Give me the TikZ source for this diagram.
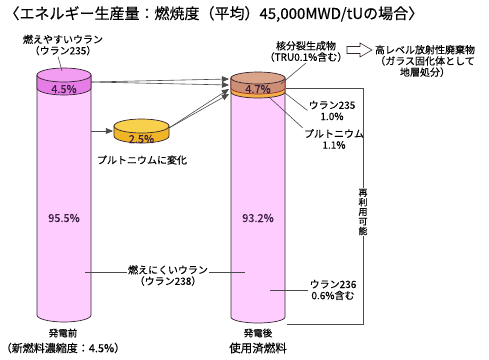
\documentclass[tikz,border=0pt]{standalone}
\usepackage{fontspec}
\setmainfont{Noto Sans CJK JP}[FakeBold=0.3]
\usetikzlibrary{arrows}

\definecolor{pinkbody}{HTML}{FFCCFF}
\definecolor{magtop}{HTML}{F29CF2}
\definecolor{magband}{HTML}{E67CE6}
\definecolor{goldtop}{HTML}{F9D04C}
\definecolor{goldside}{HTML}{F0B526}
\definecolor{browntop}{HTML}{D9A48A}
\definecolor{brownband}{HTML}{CC8F75}
\definecolor{orangeband}{HTML}{F4AE48}
\definecolor{redline}{HTML}{9A2A20}
\definecolor{edge}{HTML}{33232F}
\definecolor{linegray}{HTML}{4A4A4A}
\definecolor{pcttext}{HTML}{3A2040}

\begin{document}
\begin{tikzpicture}[x=1pt,y=1pt,>=triangle 45,
    lbl/.style={align=center,font=\fontsize{10}{11.2}\selectfont,inner sep=1pt},
    pct/.style={font=\fontsize{11}{12}\selectfont,text=pcttext,inner sep=0pt},
    lead/.style={draw=linegray,line width=0.6pt},
    arr/.style={->,draw=linegray,line width=0.6pt},
    outl/.style={draw=edge,line width=0.7pt}]
\useasboundingbox (0,0) rectangle (489,-359);

\node[anchor=west,font=\fontsize{15}{16}\selectfont] (title) at (1,-14)
    {〈エネルギー生産量：燃焼度（平均）45,000MWD/tUの場合〉};

% fuel before
\fill[pinkbody] (37,-75) -- (37,-315) arc (180:360:27 and 7) -- (91,-75) -- cycle;
\draw[outl] (37,-75) -- (37,-315) arc (180:360:27 and 7) -- (91,-75);
\filldraw[fill=magband,outl] (37,-75) -- (37,-88) arc (180:360:27 and 7) -- (91,-75) -- cycle;
\filldraw[fill=magtop,outl] (64,-75) ellipse (27 and 7);

% plutonium
\filldraw[fill=goldside,outl] (114,-126) -- (114,-136) arc (180:360:27.5 and 7) -- (169,-126) -- cycle;
\filldraw[fill=goldtop,outl] (141.5,-126) ellipse (27.5 and 7);

% spent fuel
\fill[pinkbody] (231,-78) -- (231,-317) arc (180:360:27 and 6) -- (285,-78) -- cycle;
\draw[outl] (231,-78) -- (231,-317) arc (180:360:27 and 6) -- (285,-78);
\filldraw[fill=orangeband,outl] (231,-78) -- (231,-92) arc (180:360:27 and 6) -- (285,-78) -- cycle;
\filldraw[fill=brownband,draw=redline,line width=0.7pt] (231,-78) -- (231,-88) arc (180:360:27 and 6) -- (285,-78) -- cycle;
\filldraw[fill=browntop,outl] (258,-78) ellipse (27 and 6);

\node[pct] (p45) at (64,-89) {4.5\%};
\node[pct] (p955) at (64,-218) {95.5\%};
\node[pct] (p25) at (141.5,-139) {2.5\%};
\node[pct] (p47) at (258,-89) {4.7\%};
\node[pct] (p932) at (258,-218) {93.2\%};

% labels
\node[lbl] (u5a) at (63,-45) {燃えやすいウラン\\（ウラン235）};
\node[lbl] (puc) at (142,-160) {プルトニウムに変化};
\node[lbl,fill=white] (u8) at (168,-275.5) {燃えにくいウラン\\（ウラン238）};
\node[lbl] (fp) at (306,-51.5) {核分裂生成物\\（TRU0.1\%含む）};
\node[lbl] (hlw) at (425,-61) {高レベル放射性廃棄物\\（ガラス固化体として\\地層処分）};
\node[lbl] (u5b) at (332,-110.5) {ウラン235\\1.0\%};
\node[lbl] (pub) at (334,-139) {プルトニウム\\1.1\%};
\node[lbl] (u6) at (333,-290) {ウラン236\\0.6\%含む};

\node[font=\fontsize{9.5}{11}\selectfont] (bef) at (63,-333) {発電前};
\node[font=\fontsize{11}{13}\selectfont] (befb) at (63,-348) {（新燃料濃縮度：4.5\%）};
\node[font=\fontsize{9.5}{11}\selectfont] (aft) at (258,-333) {発電後};
\node[font=\fontsize{11.5}{13}\selectfont] (aftb) at (258,-348) {使用済燃料};

% connectors
\coordinate (l1) at (91,-82);
\coordinate (l2) at (91,-131);
\coordinate (s0) at (113,-131);
\coordinate (s1) at (169,-128);
\coordinate (r1) at (229,-79);
\coordinate (r2) at (229,-85);
\coordinate (r3) at (229,-89);
\coordinate (r4) at (229,-94);
\draw[arr] (l2) -- (s0);
\draw[arr] (l1) -- (r1);
\draw[arr] (l1) -- (r2);
\draw[arr] (s1) -- (r3);
\draw[arr] (s1) -- (r4);

\coordinate (u5ap) at (62,-71);
\coordinate (u8l) at (85,-272);
\coordinate (u8r) at (245,-272);
\coordinate (fpp) at (281,-84);
\coordinate (u5bp) at (285,-93);
\coordinate (pubp) at (270,-98);
\coordinate (u6p) at (270,-290);
\draw[lead] ([xshift=-5pt]u5a.south) -- (u5ap);
\draw[lead] (u8l) -- (u8.west |- u8l);
\draw[lead] (u8.east |- u8r) -- (u8r);
\draw[lead] (fpp) -- (fp.south);
\draw[lead] (u5bp) -- (u5b.west);
\draw[lead] (pubp) -- (pub.north west);
\draw[lead] (u6p) -- (u6.west);

% to disposal
\draw[draw=edge,line width=0.6pt,fill=white] (347,-46.5) -- (360,-46.5) -- (360,-43)
    -- (372,-50) -- (360,-57) -- (360,-53.5) -- (347,-53.5) -- cycle;

% reuse
\coordinate (rc1) at (286,-88);
\coordinate (rc2) at (287,-324);
\draw[lead] (rc1) -- (363,-88) -- (363,-324) -- (rc2);
\node[fill=white,align=center,inner sep=1pt,font=\fontsize{9}{9.6}\selectfont] (reuse) at (363,-212) {再\\利\\用\\可\\能};
\end{tikzpicture}
\end{document}
